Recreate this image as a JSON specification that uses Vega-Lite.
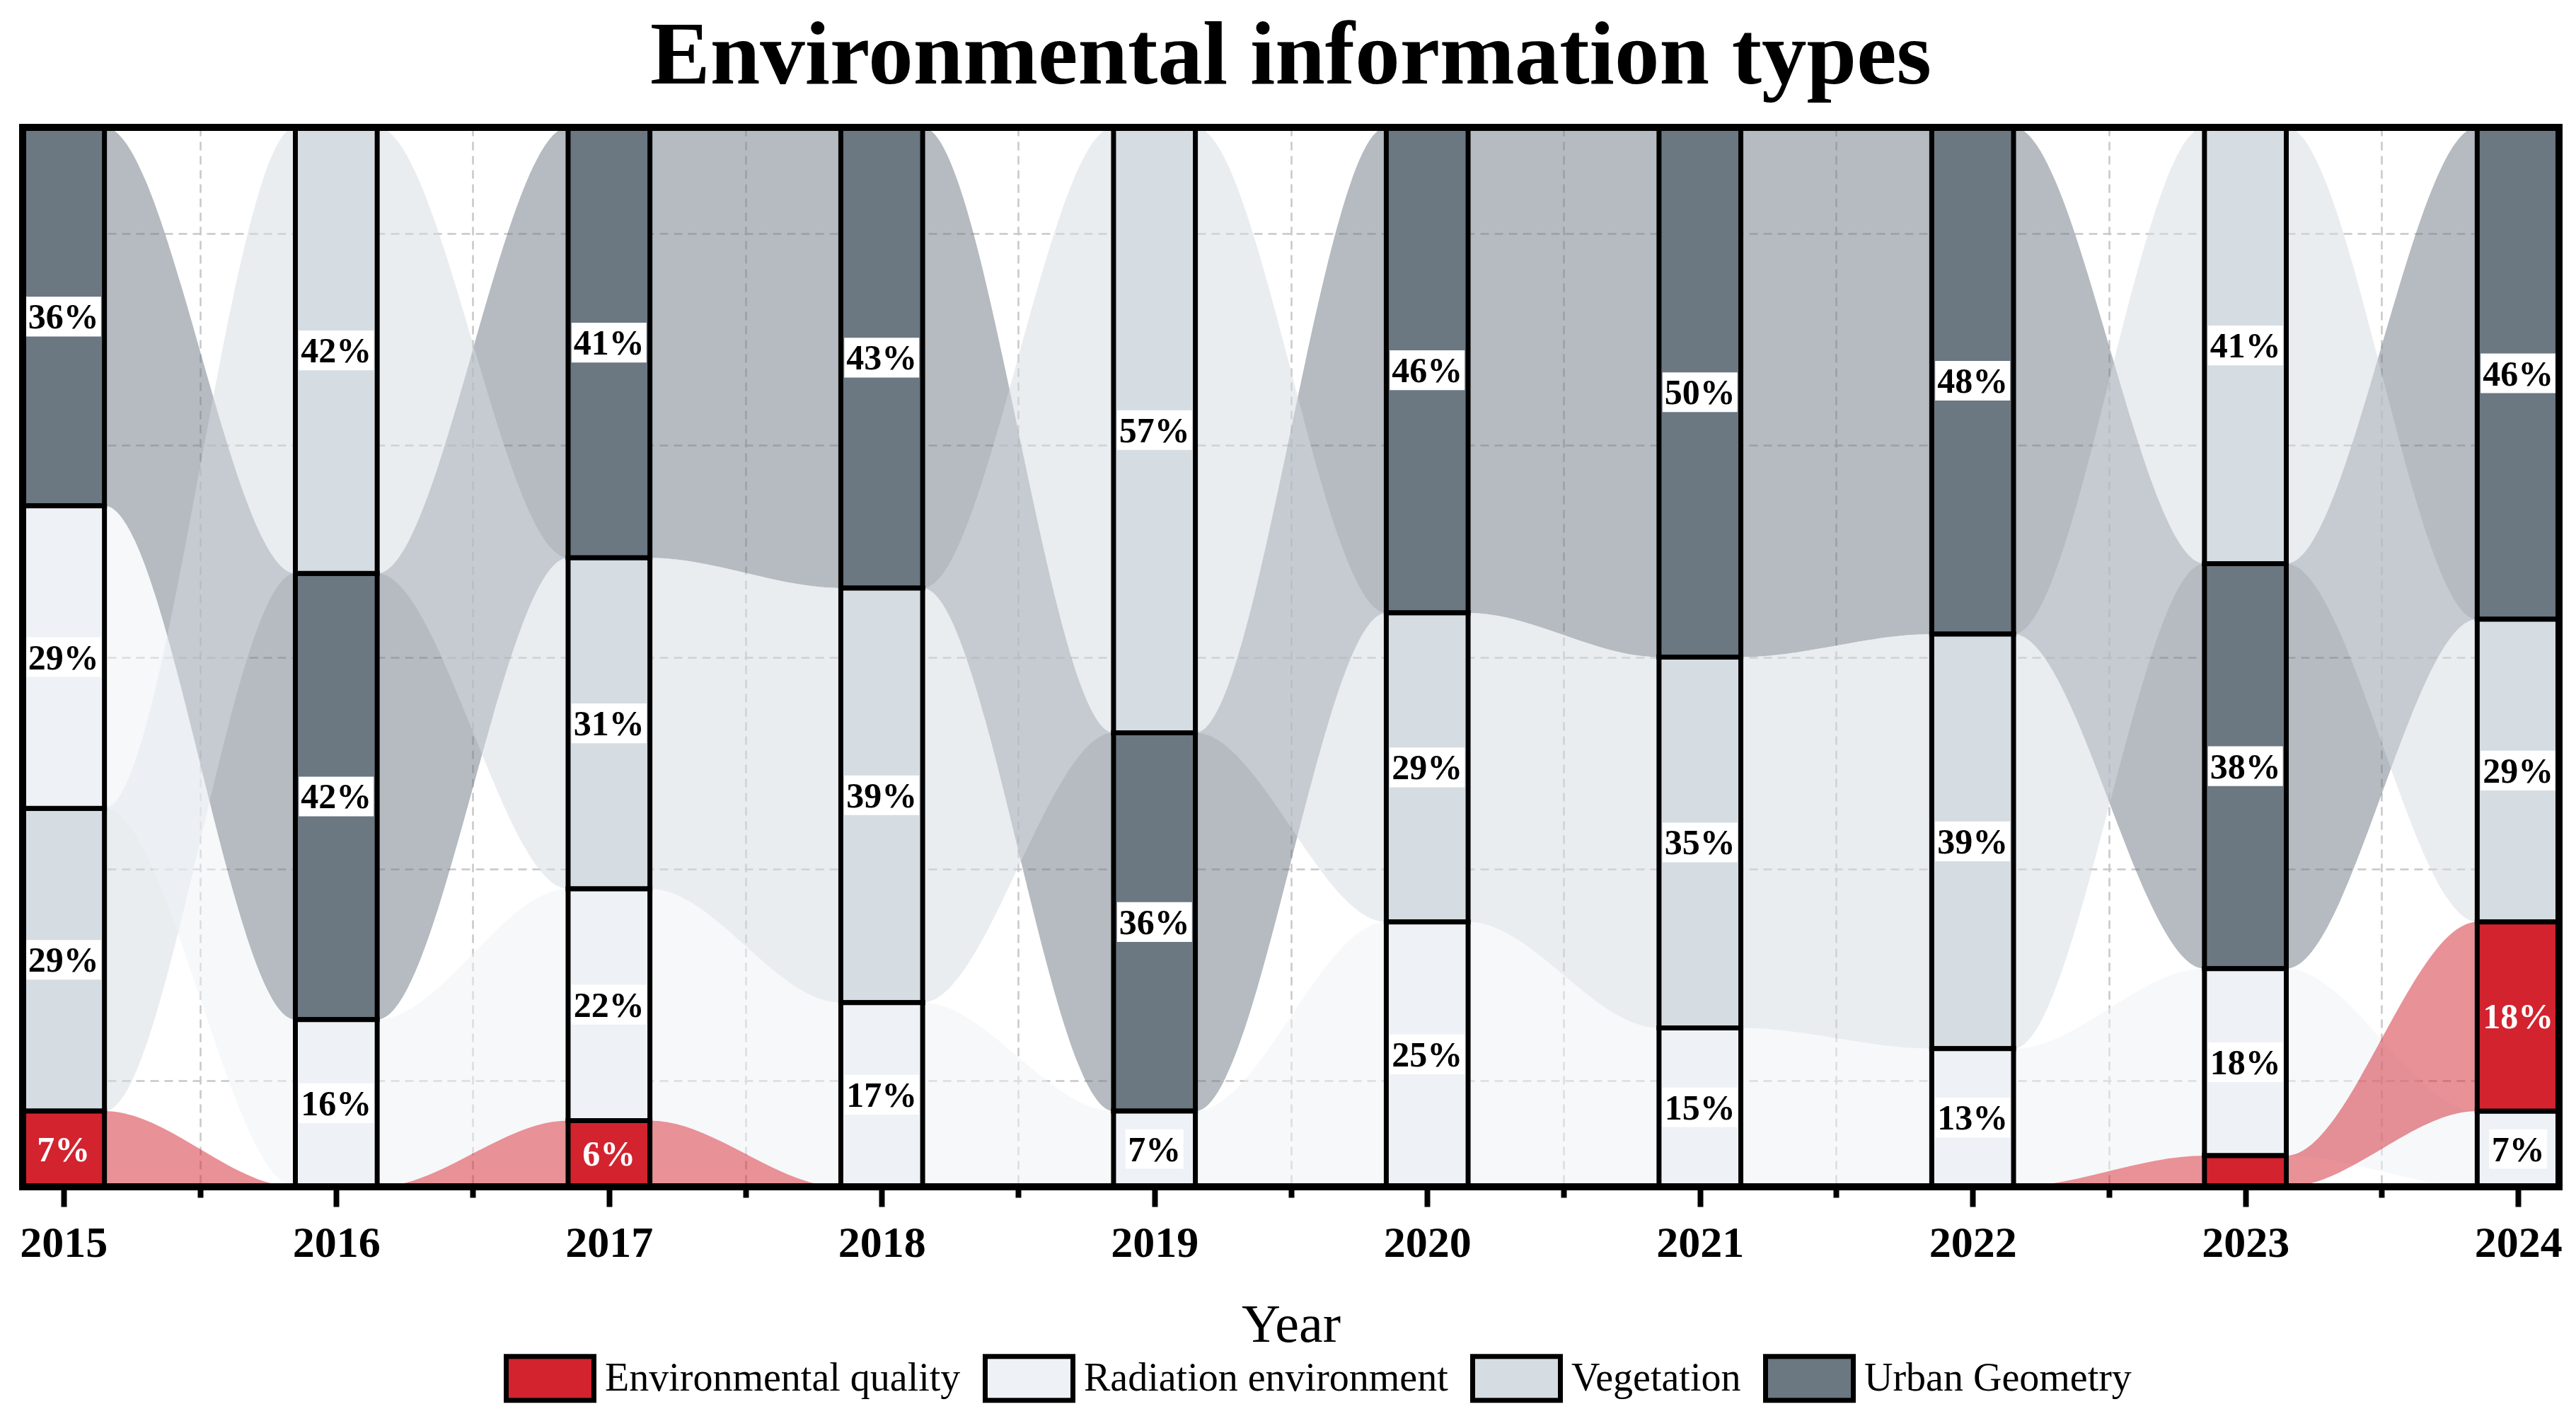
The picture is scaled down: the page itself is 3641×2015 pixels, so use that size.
{
  "$schema": "https://vega.github.io/schema/vega-lite/v6.json",
  "width": 3585,
  "height": 1497,
  "autosize": {"type": "none"},
  "padding": {"left": 32, "top": 180, "right": 24, "bottom": 338},
  "background": "white",
  "title": {"text": "Environmental information types", "font": "Liberation Serif", "fontSize": 127, "fontWeight": "bold", "color": "black", "anchor": "middle", "baseline": "bottom", "offset": 35, "dy": 132},
  "config": {"view": {"stroke": null}},
  "data": {"values": [
    {"year": 2015, "category": "Urban Geometry", "share": 0.3571},
    {"year": 2015, "category": "Vegetation", "share": 0.2857},
    {"year": 2015, "category": "Radiation environment", "share": 0.2857},
    {"year": 2015, "category": "Environmental quality", "share": 0.0714},
    {"year": 2016, "category": "Urban Geometry", "share": 0.4211},
    {"year": 2016, "category": "Vegetation", "share": 0.4211},
    {"year": 2016, "category": "Radiation environment", "share": 0.1579},
    {"year": 2016, "category": "Environmental quality", "share": 0},
    {"year": 2017, "category": "Urban Geometry", "share": 0.4063},
    {"year": 2017, "category": "Vegetation", "share": 0.3125},
    {"year": 2017, "category": "Radiation environment", "share": 0.2188},
    {"year": 2017, "category": "Environmental quality", "share": 0.0625},
    {"year": 2018, "category": "Urban Geometry", "share": 0.4348},
    {"year": 2018, "category": "Vegetation", "share": 0.3913},
    {"year": 2018, "category": "Radiation environment", "share": 0.1739},
    {"year": 2018, "category": "Environmental quality", "share": 0},
    {"year": 2019, "category": "Urban Geometry", "share": 0.3571},
    {"year": 2019, "category": "Vegetation", "share": 0.5714},
    {"year": 2019, "category": "Radiation environment", "share": 0.0714},
    {"year": 2019, "category": "Environmental quality", "share": 0},
    {"year": 2020, "category": "Urban Geometry", "share": 0.4583},
    {"year": 2020, "category": "Vegetation", "share": 0.2917},
    {"year": 2020, "category": "Radiation environment", "share": 0.25},
    {"year": 2020, "category": "Environmental quality", "share": 0},
    {"year": 2021, "category": "Urban Geometry", "share": 0.5},
    {"year": 2021, "category": "Vegetation", "share": 0.35},
    {"year": 2021, "category": "Radiation environment", "share": 0.15},
    {"year": 2021, "category": "Environmental quality", "share": 0},
    {"year": 2022, "category": "Urban Geometry", "share": 0.4783},
    {"year": 2022, "category": "Vegetation", "share": 0.3913},
    {"year": 2022, "category": "Radiation environment", "share": 0.1304},
    {"year": 2022, "category": "Environmental quality", "share": 0},
    {"year": 2023, "category": "Urban Geometry", "share": 0.3824},
    {"year": 2023, "category": "Vegetation", "share": 0.4118},
    {"year": 2023, "category": "Radiation environment", "share": 0.1765},
    {"year": 2023, "category": "Environmental quality", "share": 0.0294},
    {"year": 2024, "category": "Urban Geometry", "share": 0.4643},
    {"year": 2024, "category": "Vegetation", "share": 0.2857},
    {"year": 2024, "category": "Radiation environment", "share": 0.0714},
    {"year": 2024, "category": "Environmental quality", "share": 0.1786}
  ]},
  "transform": [
    {"stack": "share", "groupby": ["year"], "sort": [{"field": "share", "order": "ascending"}], "offset": "normalize", "as": ["y0", "y1"]},
    {"calculate": "datum.year - 0.15", "as": "xl"},
    {"calculate": "datum.year + 0.15", "as": "xr"},
    {"calculate": "(datum.y0 + datum.y1) / 2", "as": "ymid"}
  ],
  "resolve": {"scale": {"x": "shared", "y": "shared"}, "axis": {"x": "independent"}},
  "layer": [
    {
      "transform": [{"fold": ["xl", "xr"], "as": ["edge", "xpos"]}],
      "mark": {"type": "area", "interpolate": "monotone", "opacity": 0.5},
      "encoding": {
        "x": {"field": "xpos", "type": "quantitative", "scale": {"domain": [2014.85, 2024.15], "nice": false, "zero": false},
          "axis": {"orient": "bottom", "values": [2015.5, 2016.5, 2017.5, 2018.5, 2019.5, 2020.5, 2021.5, 2022.5, 2023.5], "labels": false, "tickSize": 15, "tickWidth": 8, "tickColor": "black", "domain": false, "grid": true, "gridDash": [12, 8], "gridColor": "#c8c8c8", "gridWidth": 2.5, "title": null}},
        "y": {"field": "y0", "type": "quantitative", "stack": null, "scale": {"domain": [0, 1], "nice": false, "zero": false},
          "axis": {"values": [0.1, 0.3, 0.5, 0.7, 0.9], "labels": false, "ticks": false, "domain": false, "title": null, "grid": true, "gridDash": [12, 8], "gridColor": "#c8c8c8", "gridWidth": 2.5}},
        "y2": {"field": "y1"},
        "fill": {"field": "category", "type": "nominal",
          "scale": {"domain": ["Environmental quality", "Radiation environment", "Vegetation", "Urban Geometry"], "range": ["#d2232f", "#eef1f5", "#d5dce2", "#6b7781"]},
          "legend": {"orient": "none", "legendX": 680, "legendY": 1702, "padding": 0, "direction": "horizontal", "title": null, "labelFont": "Liberation Serif", "labelFontSize": 56, "labelColor": "black", "symbolType": "M-1,-0.5H1V0.5H-1Z", "symbolSize": 15376, "symbolStrokeColor": "black", "symbolStrokeWidth": 7, "symbolOpacity": 1, "columnPadding": 20, "labelOffset": 12, "labelLimit": 1000}}
      }
    },
    {
      "transform": [{"filter": "datum.share > 0"}],
      "mark": {"type": "rect", "stroke": "black", "strokeWidth": 7},
      "encoding": {
        "x": {"field": "xl", "type": "quantitative", "scale": {"domain": [2014.85, 2024.15], "nice": false, "zero": false},
          "axis": {"orient": "bottom", "values": [2015, 2016, 2017, 2018, 2019, 2020, 2021, 2022, 2023, 2024], "format": "d", "labelFont": "Liberation Serif", "labelFontWeight": "bold", "labelFontSize": 62, "labelColor": "black", "labelOverlap": false, "labelPadding": 21, "tickSize": 28, "tickWidth": 8, "tickColor": "black", "domain": false, "grid": false, "title": "Year", "titleFont": "Liberation Serif", "titleFontWeight": "normal", "titleFontSize": 76, "titleColor": "black", "titlePadding": 48}},
        "x2": {"field": "xr"},
        "y": {"field": "y0", "type": "quantitative", "stack": null, "scale": {"domain": [0, 1], "nice": false, "zero": false},
          "axis": {"values": [0.1, 0.3, 0.5, 0.7, 0.9], "labels": false, "ticks": false, "domain": false, "title": null, "grid": true, "gridDash": [12, 8], "gridColor": "#c8c8c8", "gridWidth": 2.5}},
        "y2": {"field": "y1"},
        "fill": {"field": "category", "type": "nominal",
          "scale": {"domain": ["Environmental quality", "Radiation environment", "Vegetation", "Urban Geometry"], "range": ["#d2232f", "#eef1f5", "#d5dce2", "#6b7781"]},
          "legend": {"orient": "none", "legendX": 680, "legendY": 1702, "padding": 0, "direction": "horizontal", "title": null, "labelFont": "Liberation Serif", "labelFontSize": 56, "labelColor": "black", "symbolType": "M-1,-0.5H1V0.5H-1Z", "symbolSize": 15376, "symbolStrokeColor": "black", "symbolStrokeWidth": 7, "symbolOpacity": 1, "columnPadding": 20, "labelOffset": 12, "labelLimit": 1000}}
      }
    },
    {
      "transform": [{"filter": "datum.share > 0.04 && datum.category !== 'Environmental quality'"}],
      "mark": {"type": "point", "filled": true, "fill": "white", "opacity": 1, "strokeWidth": 0},
      "encoding": {
        "x": {"field": "year", "type": "quantitative", "axis": null},
        "y": {"field": "ymid", "type": "quantitative", "axis": {"values": [0.1, 0.3, 0.5, 0.7, 0.9], "labels": false, "ticks": false, "domain": false, "title": null, "grid": true, "gridDash": [12, 8], "gridColor": "#c8c8c8", "gridWidth": 2.5}},
        "shape": {"condition": {"test": "datum.share < 0.095", "value": "M-1,-0.68H1V0.68H-1Z"}, "value": "M-1,-0.53H1V0.53H-1Z"},
        "size": {"condition": {"test": "datum.share < 0.095", "value": 6724}, "value": 11236}
      }
    },
    {
      "transform": [{"filter": "datum.share > 0.04"}],
      "mark": {"type": "text", "font": "Liberation Serif", "fontSize": 50, "fontWeight": "bold", "align": "center", "baseline": "middle", "dy": 2},
      "encoding": {
        "x": {"field": "year", "type": "quantitative", "axis": null},
        "y": {"field": "ymid", "type": "quantitative", "axis": {"values": [0.1, 0.3, 0.5, 0.7, 0.9], "labels": false, "ticks": false, "domain": false, "title": null, "grid": true, "gridDash": [12, 8], "gridColor": "#c8c8c8", "gridWidth": 2.5}},
        "text": {"field": "share", "type": "quantitative", "format": ".0%"},
        "color": {"condition": {"test": "datum.category === 'Environmental quality'", "value": "white"}, "value": "black"}
      }
    },
    {
      "transform": [{"filter": "datum.year === 2015 && datum.category === 'Urban Geometry'"}],
      "mark": {"type": "rect", "fill": null, "stroke": "black", "strokeWidth": 10},
      "encoding": {
        "x": {"datum": 2014.85, "type": "quantitative", "axis": null},
        "x2": {"datum": 2024.15},
        "y": {"datum": 0, "type": "quantitative", "axis": {"values": [0.1, 0.3, 0.5, 0.7, 0.9], "labels": false, "ticks": false, "domain": false, "title": null, "grid": true, "gridDash": [12, 8], "gridColor": "#c8c8c8", "gridWidth": 2.5}},
        "y2": {"datum": 1}
      }
    }
  ]
}
